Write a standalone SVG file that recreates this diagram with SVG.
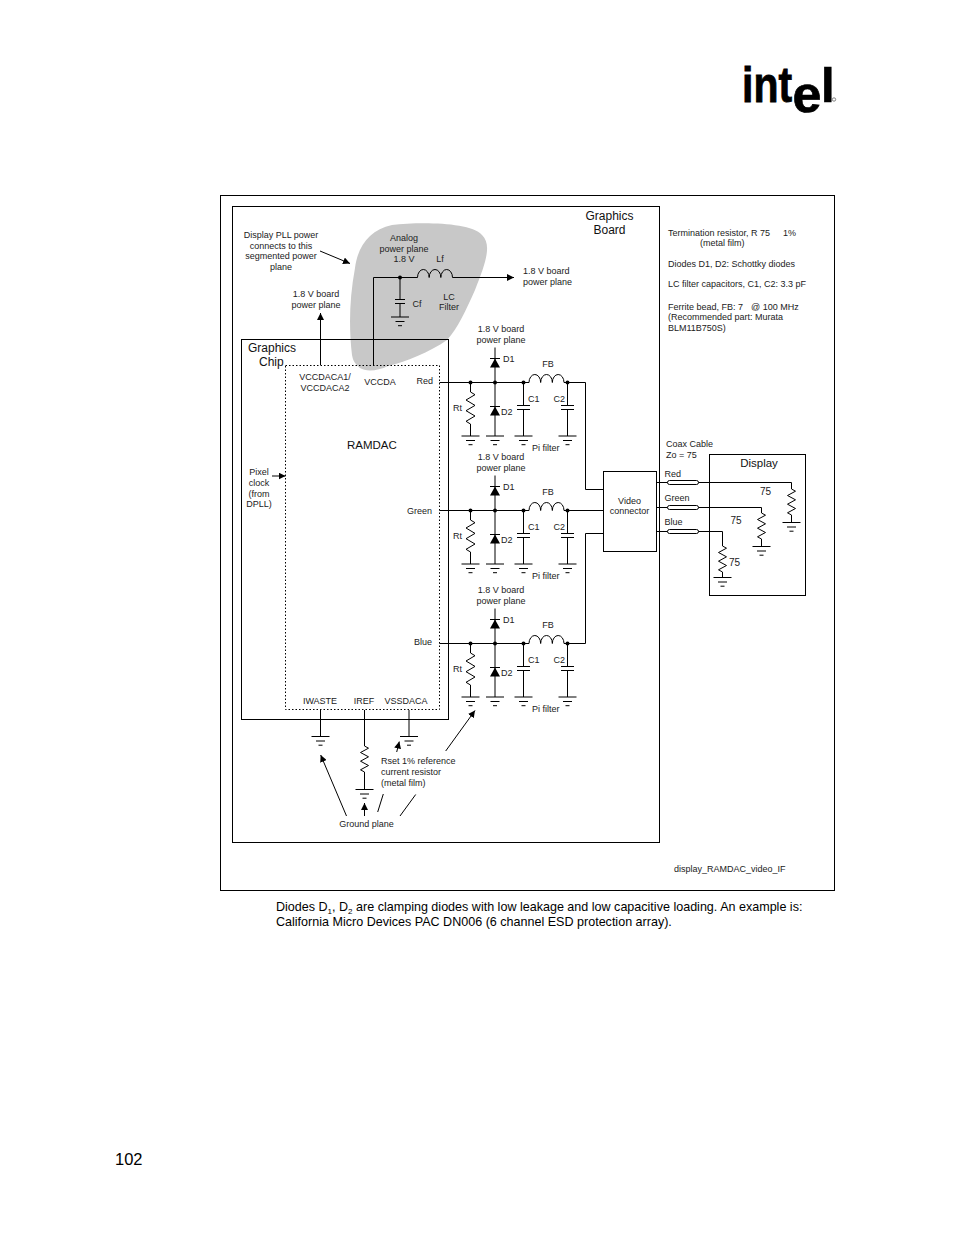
<svg xmlns="http://www.w3.org/2000/svg" width="954" height="1235" viewBox="0 0 954 1235">
<style>
text{font-family:"Liberation Sans",Arial,sans-serif;font-size:9px;fill:#222}
.m{text-anchor:middle}
.e{text-anchor:end}
.b{font-size:12px;fill:#111}
.n{font-size:10px}
.body{font-size:12.56px;fill:#000}
.logo{font-weight:bold;fill:#000;stroke:#000;stroke-width:.7}
.w{fill:none;stroke:#000;stroke-width:1}
.d{fill:none;stroke:#000;stroke-width:1;stroke-dasharray:1.5 2}
.f{fill:#000;stroke:none}
.c{fill:#fff;stroke:#000;stroke-width:1}
</style>
<defs>
<marker id="arr" viewBox="0 0 7 7" refX="7" refY="3.5" markerWidth="7" markerHeight="7" markerUnits="userSpaceOnUse" orient="auto"><path d="M0 0L7 3.5L0 7Z" fill="#000"/></marker>
<g id="gnd"><path class="w" d="M-9 0H9M-4.5 4.5H4.5M-2 8.7H2"/></g>
<path id="r32" class="w" d="M0 0L4.5 2.7L-4.5 8L4.5 13.4L-4.5 18.7L4.5 24L-4.5 29.3L0 32"/>
<path id="r26" class="w" d="M0 0L4 2.2L-4 6.5L4 10.8L-4 15.2L4 19.5L-4 23.8L0 26"/>
<path id="ind" class="w" d="M0 0a5.83 8 0 0 1 11.67 0a5.83 8 0 0 1 11.67 0a5.83 8 0 0 1 11.66 0"/>
<g id="capH"><path class="w" d="M-6.5 -2H6.5M-6.5 2H6.5"/></g>
<g id="filter">
<path class="w" d="M470.5 0V9.5M470.5 41.5V53.5M495 -35V53.5M523.5 0V23M523.5 27V53.5M567.5 0V23M567.5 27V53.5"/>
<use href="#r32" x="470.5" y="9.5"/>
<path class="w" d="M490 -24H500M490 24H500"/>
<path class="f" d="M490 -15L495 -24L500 -15ZM490 33L495 24L500 33Z"/>
<use href="#capH" x="523.5" y="25"/><use href="#capH" x="567.5" y="25"/>
<use href="#ind" x="529" y="0"/>
<circle class="f" cx="470.5" cy="0" r="2"/><circle class="f" cx="495" cy="0" r="2"/><circle class="f" cx="523.5" cy="0" r="2"/><circle class="f" cx="567.5" cy="0" r="2"/>
<use href="#gnd" x="470.5" y="53.5"/><use href="#gnd" x="495" y="53.5"/><use href="#gnd" x="523.5" y="53.5"/><use href="#gnd" x="567.5" y="53.5"/>
</g>
</defs>
<rect width="954" height="1235" fill="#fff"/>

<g id="logo">
<text class="logo" transform="translate(742,102) scale(1,1.2)" style="font-size:41px">int</text>
<text class="logo" x="792.5" y="112" style="font-size:52px">e</text>
<text class="logo" x="821" y="102" style="font-size:49px">l</text>
<circle cx="834" cy="99.5" r="1.7" fill="none" stroke="#666" stroke-width="0.8"/>
</g>

<rect id="frame" class="w" x="220.5" y="195.5" width="614" height="695"/>
<g id="graphics-board"><rect class="w" x="232.5" y="206.5" width="427" height="636"/>
<text class="b m" x="609.5" y="220">Graphics</text><text class="b m" x="609.5" y="234">Board</text></g>
<path id="analog-plane" fill="#c8c8c8" d="M352 355C349 330 349 300 355 268C358 245 370 230 392 225C420 222 470 222 482 235C492 245 486 262 475 290C466 310 458 328 447 340C430 352 405 362 388 366C378 371 366 372 360 368C354 363 353 360 352 355Z"/>

<g id="notes">
<text x="668" y="236">Termination resistor, R 75<tspan x="783">1%</tspan></text>
<text x="700" y="246">(metal film)</text>
<text x="668" y="267">Diodes D1, D2: Schottky diodes</text>
<text x="668" y="287">LC filter capacitors, C1, C2: 3.3 pF</text>
<text x="668" y="310">Ferrite bead, FB: 7<tspan x="751">@ 100 MHz</tspan></text>
<text x="668" y="320">(Recommended part: Murata</text>
<text x="668" y="331">BLM11B750S)</text>
<text x="674" y="872">display_RAMDAC_video_IF</text>
</g>
<g id="plane-labels">
<text class="m" x="281" y="238">Display PLL power</text><text class="m" x="281" y="248.5">connects to this</text><text class="m" x="281" y="259">segmented power</text><text class="m" x="281" y="270">plane</text>
<text class="m" x="404" y="241">Analog</text><text class="m" x="404" y="252">power plane</text><text class="m" x="404" y="262">1.8 V</text>
<text class="m" x="440" y="262">Lf</text>
<text class="m" x="417" y="307">Cf</text>
<text class="m" x="449" y="300">LC</text><text class="m" x="449" y="310">Filter</text>
<text class="m" x="316" y="297">1.8 V board</text><text class="m" x="316" y="307.5">power plane</text>
<text x="523" y="274">1.8 V board</text><text x="523" y="285">power plane</text>
</g>

<g id="graphics-chip"><rect class="w" x="241.5" y="339.5" width="207" height="380"/>
<text class="b" x="248" y="352">Graphics</text><text class="b" x="259" y="366">Chip</text></g>
<g id="ramdac"><rect class="d" x="285.5" y="365.5" width="154" height="344"/>
<text class="m" x="325" y="379.5">VCCDACA1/</text><text class="m" x="325" y="390.5">VCCDACA2</text>
<text class="m" x="380" y="385">VCCDA</text>
<text class="e" x="433" y="384">Red</text><text class="e" x="432" y="514">Green</text><text class="e" x="432" y="645">Blue</text>
<text class="b" x="347" y="449" style="font-size:11.5px">RAMDAC</text>
<text class="m" x="320" y="704">IWASTE</text><text class="m" x="364" y="704">IREF</text><text class="m" x="406" y="704">VSSDACA</text>
<text class="m" x="259" y="475">Pixel</text><text class="m" x="259" y="486">clock</text><text class="m" x="259" y="497">(from</text><text class="m" x="259" y="507">DPLL)</text>
</g>

<g id="lc-filter">
<use href="#ind" x="417.5" y="277.5"/>
<circle class="f" cx="400" cy="277.5" r="2"/>
<path class="w" d="M395 299.5H405M395 303.5H405M400 277.5V299.5M400 303.5V317"/>
<use href="#gnd" x="400" y="317"/>
</g>

<g id="connectors">
<path class="w" d="M373.5 366V277.5H417.5"/>
<path class="w" d="M452.5 277.5H514" marker-end="url(#arr)"/>
<path class="w" d="M320.5 365V313" marker-end="url(#arr)"/>
<path class="w" d="M320 251L350 263.5" marker-end="url(#arr)"/>
<path class="w" d="M439.5 382.5H529M564 382.5H585.5V489.5H603.5"/>
<path class="w" d="M439.5 510.5H529M564 510.5H603.5"/>
<path class="w" d="M439.5 643.5H529M564 643.5H585.5V533.5H603.5"/>
<path class="w" d="M272 476H285.5" marker-end="url(#arr)"/>
<path class="w" d="M320.5 710V736M364.5 710V746M364.5 772V789M409 710V736"/>
<path class="w" d="M656.5 482.5H668M698 482.5H791.5V489"/>
<path class="w" d="M656.5 507.5H668M698 507.5H761.5V513"/>
<path class="w" d="M656.5 531.5H668M698 531.5H722.5V546"/>
<path class="w" d="M791.5 515V522M761.5 539V546M722.5 572V577"/>
<path class="w" d="M346.5 816L320.7 755" marker-end="url(#arr)"/>
<path class="w" d="M364.5 816V803" marker-end="url(#arr)"/>
<path class="w" d="M377.7 812L383.3 794"/>
<path class="w" d="M396.7 752L399.3 741.5" marker-end="url(#arr)"/>
<path class="w" d="M400 816L415.7 794.5"/>
<path class="w" d="M445.7 751L475 710.5" marker-end="url(#arr)"/>
</g>

<g id="filter-red"><use href="#filter" y="382.5"/>
<text class="m" x="501" y="332">1.8 V board</text><text class="m" x="501" y="343">power plane</text>
<text x="503" y="362">D1</text><text class="m" x="548" y="366.5">FB</text><text x="528" y="402">C1</text><text x="553.5" y="402">C2</text><text x="453" y="411">Rt</text><text x="501" y="415">D2</text><text x="532" y="451">Pi filter</text></g>
<g id="filter-green"><use href="#filter" y="510.5"/>
<text class="m" x="501" y="460">1.8 V board</text><text class="m" x="501" y="471">power plane</text>
<text x="503" y="490">D1</text><text class="m" x="548" y="494.5">FB</text><text x="528" y="530">C1</text><text x="553.5" y="530">C2</text><text x="453" y="539">Rt</text><text x="501" y="543">D2</text><text x="532" y="579">Pi filter</text></g>
<g id="filter-blue"><use href="#filter" y="643.5"/>
<text class="m" x="501" y="593">1.8 V board</text><text class="m" x="501" y="604">power plane</text>
<text x="503" y="623">D1</text><text class="m" x="548" y="627.5">FB</text><text x="528" y="663">C1</text><text x="553.5" y="663">C2</text><text x="453" y="672">Rt</text><text x="501" y="676">D2</text><text x="532" y="712">Pi filter</text></g>

<g id="video-connector"><rect class="w" x="603.5" y="471.5" width="53" height="80"/>
<text class="m" x="629.5" y="504">Video</text><text class="m" x="629.5" y="514">connector</text></g>

<g id="coax">
<text x="666" y="447">Coax Cable</text><text x="666" y="457.5">Zo = 75</text>
<text x="664.5" y="477">Red</text><text x="664.5" y="501">Green</text><text x="664.5" y="525">Blue</text>
<rect class="c" x="667.5" y="480.5" width="31" height="4" rx="2"/>
<rect class="c" x="667.5" y="505.5" width="31" height="4" rx="2"/>
<rect class="c" x="667.5" y="529.5" width="31" height="4" rx="2"/>
</g>

<g id="display"><rect class="w" x="709.5" y="454.5" width="96" height="141"/>
<text class="m b" x="759" y="467" style="font-size:11.5px">Display</text>
<use href="#r26" x="791.5" y="489"/><use href="#gnd" x="791.5" y="522.5"/>
<use href="#r26" x="761.5" y="513"/><use href="#gnd" x="761.5" y="546.5"/>
<use href="#r26" x="722.5" y="546"/><use href="#gnd" x="722.5" y="577.5"/>
<text class="n" x="760" y="495">75</text><text class="n" x="730.5" y="524">75</text><text class="n" x="729" y="566">75</text>
</g>

<g id="bottom-grounds">
<use href="#gnd" x="320.5" y="736.5"/>
<use href="#r26" x="364.5" y="746"/>
<use href="#gnd" x="364.5" y="789.5"/>
<use href="#gnd" x="409" y="736.5"/>
<text x="381" y="764">Rset 1% reference</text><text x="381" y="775">current resistor</text><text x="381" y="785.5">(metal film)</text>
<text class="m" x="366.5" y="827">Ground plane</text>
</g>

<g id="body-text">
<text class="body" x="276" y="911">Diodes D<tspan dy="2.5" style="font-size:8px">1</tspan><tspan dy="-2.5">, D</tspan><tspan dy="2.5" style="font-size:8px">2</tspan><tspan dy="-2.5"> are clamping diodes with low leakage and low capacitive loading. An example is:</tspan></text>
<text class="body" x="276" y="926">California Micro Devices PAC DN006 (6 channel ESD protection array).</text>
<text x="115" y="1165" style="font-size:16.5px;fill:#000">102</text>
</g>
</svg>
